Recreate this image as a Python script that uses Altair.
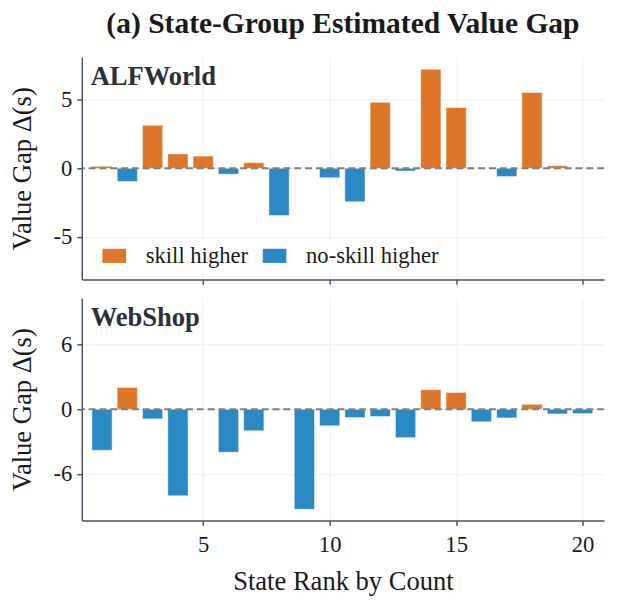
import altair as alt
import pandas as pd

ranks = list(range(1, 21))
alfworld_gap = [0.15, -0.96, 3.13, 1.05, 0.89, -0.43, 0.41, -3.44, 0.0, -0.69,
                -2.44, 4.81, -0.20, 7.22, 4.43, 0.0, -0.60, 5.53, 0.19, 0.0]
webshop_gap = [-3.80, 2.02, -0.89, -8.02, 0.0, -3.98, -1.99, 0.05, -9.27, -1.53,
               -0.77, -0.67, -2.63, 1.81, 1.56, -1.16, -0.80, 0.46, -0.43, -0.40]
panel_names = ["ALFWorld", "WebShop"]
series_names = ["skill higher", "no-skill higher"]
colors = ["#DD7628", "#2A89C2"]
x_ticks = [5, 10, 15, 20]
alf_yticks = [-5, 0, 5]
web_yticks = [-6, 0, 6]

FONT = "Liberation Serif"
AX = "#4a5160"
TXT = "#1a1a1a"
W, H = 531, 226
LABEL_EXPR = "datum.value < 0 ? '-' + abs(datum.value) : '' + datum.value"


def make_df(vals):
    return pd.DataFrame({
        "rank": ranks,
        "gap": vals,
        "dir": [series_names[0] if v > 0 else series_names[1] for v in vals],
    })


def panel(vals, name, yticks, ydom, bottom, show_legend, title=None):
    df = make_df(vals)
    base = alt.Chart(df)
    xscale = alt.Scale(domain=[0.2, 20.85], nice=False, zero=False)
    if bottom:
        xaxis = alt.Axis(values=x_ticks, title="State Rank by Count",
                         labelExpr=LABEL_EXPR, labelFont=FONT, titleFont=FONT,
                         labelFontSize=23, titleFontSize=27, labelPadding=9,
                         titlePadding=12, labelColor=TXT, titleColor=TXT,
                         titleFontWeight="normal")
    else:
        xaxis = alt.Axis(values=x_ticks, labels=False, title=None)
    if show_legend:
        legend = alt.Legend(
            orient="none", legendX=17, legendY=186, direction="horizontal",
            title=None, symbolType="M-1,-0.6H1V0.6H-1Z", symbolSize=576,
            symbolStrokeWidth=0, labelFont=FONT, labelFontSize=23,
            labelColor=TXT, labelOffset=20, columnPadding=14,
            fillColor="white", padding=4,
        )
    else:
        legend = None
    bars = base.mark_bar(stroke="white", strokeWidth=0.5).transform_calculate(
        x0="datum.rank - 0.4", x1="datum.rank + 0.4"
    ).encode(
        x=alt.X("x0:Q", scale=xscale, axis=xaxis),
        x2="x1:Q",
        y=alt.Y("gap:Q", scale=alt.Scale(domain=ydom, nice=False),
                axis=alt.Axis(values=yticks, title="Value Gap Δ(s)",
                              labelExpr=LABEL_EXPR, labelFont=FONT,
                              titleFont=FONT, labelFontSize=23,
                              titleFontSize=27, titlePadding=17,
                              labelPadding=5, labelColor=TXT, titleColor=TXT,
                              titleFontWeight="normal")),
        y2=alt.datum(0),
        color=alt.Color("dir:N", scale=alt.Scale(domain=series_names, range=colors),
                        legend=legend),
    )
    zero = alt.Chart(pd.DataFrame({"z": [0]})).mark_rule(
        color="#7f7f7f", strokeWidth=2, strokeDash=[7, 4]
    ).encode(y="z:Q")
    label = alt.Chart(pd.DataFrame({"name": [name]})).mark_text(
        align="left", baseline="alphabetic", font=FONT, fontSize=27,
        fontWeight="bold", color="#2b2f36"
    ).encode(x=alt.value(9), y=alt.value(28), text="name:N")
    ch = alt.layer(bars, zero, label).properties(width=W, height=H)
    if title:
        ch = ch.properties(title=alt.TitleParams(
            title, font=FONT, fontSize=30, fontWeight="bold", color=TXT,
            offset=19, anchor="middle"))
    return ch


top = panel(alfworld_gap, panel_names[0], alf_yticks, [-8.1, 8.1], False, True,
            title="(a) State-Group Estimated Value Gap")
bot = panel(webshop_gap, panel_names[1], web_yticks, [-10.3, 10.3], True, False)

chart = alt.vconcat(top, bot, spacing=13).resolve_legend(
    color="independent"
).properties(
    padding={"top": -4, "left": 0, "right": 5, "bottom": 5}
).configure(background="white").configure_view(stroke=None).configure_axis(
    labelFont=FONT, titleFont=FONT, labelColor=TXT, titleColor=TXT,
    titleFontWeight="normal", domainColor=AX, domainWidth=1.5, tickColor=AX,
    tickWidth=1.5, tickSize=5, gridColor="#e6e9ee", gridWidth=0.8,
)

chart.save("out.html", embed_options={"renderer": "svg", "actions": False})
